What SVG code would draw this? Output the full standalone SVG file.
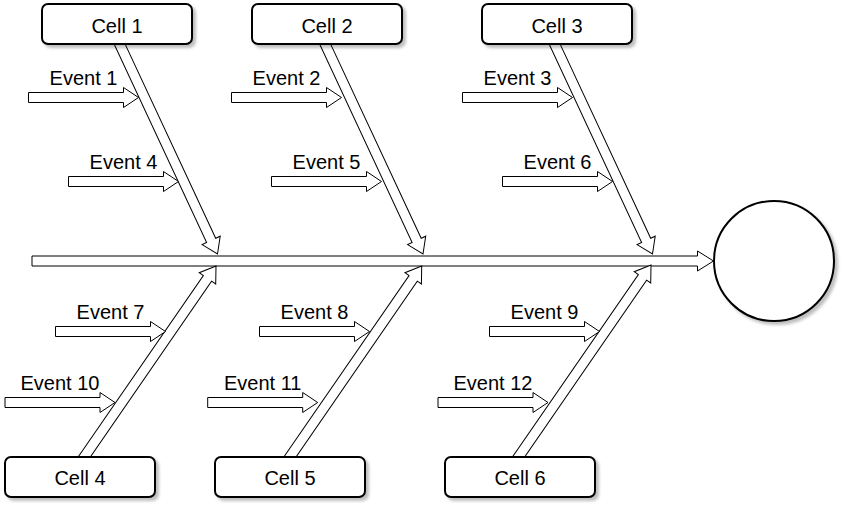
<svg xmlns="http://www.w3.org/2000/svg" xmlns:xlink="http://www.w3.org/1999/xlink" width="843" height="508" viewBox="0 0 843 508">
  <style>
    .arrow { fill: #ffffff; stroke: #000000; stroke-width: 1; stroke-linejoin: miter; }
    .box { fill: #ffffff; stroke: #000000; stroke-width: 2; filter: url(#shadow); }
    .lbl { font-family: "Liberation Sans", Arial, sans-serif; font-size: 20px; fill: #000000; text-anchor: middle; }
  </style>
  <defs>
    <filter id="shadow" x="-10%" y="-20%" width="130%" height="150%">
      <feDropShadow dx="3" dy="3" stdDeviation="1.5" flood-color="#000000" flood-opacity="0.25"/>
    </filter>
    <!-- horizontal event arrow, tip at origin -->
    <path id="ev" d="M -110 -5 L -15 -5 L -15 -10 L 0 0 L -15 10 L -15 5 L -110 5 Z"/>
    <!-- long branch arrow, tip at origin, pointing +x -->
    <path id="br" d="M -245 -5 L -15 -5 L -15 -10 L 0 0 L -15 10 L -15 5 L -245 5 Z"/>
  </defs>
  <rect x="0" y="0" width="843" height="508" fill="#ffffff"/>

  <g id="connectors">
    <!-- spine -->
    <path class="arrow" d="M 32 256 L 697.5 256 L 697.5 251 L 713.5 261 L 697.5 271 L 697.5 266 L 32 266 Z"/>
    <!-- top branches -->
    <use href="#br" class="arrow" transform="translate(217.5,254) rotate(65)"/>
    <use href="#br" class="arrow" transform="translate(423,254) rotate(65)"/>
    <use href="#br" class="arrow" transform="translate(652.5,254) rotate(65)"/>
    <!-- bottom branches -->
    <use href="#br" class="arrow" transform="translate(216,266) rotate(-55.4)"/>
    <use href="#br" class="arrow" transform="translate(421.7,266) rotate(-55.4)"/>
    <use href="#br" class="arrow" transform="translate(651,265) rotate(-55.4)"/>
    <!-- events -->
    <g id="event-1"><use href="#ev" class="arrow" x="138.5" y="97.5"/><text class="lbl" x="83.5" y="84.5">Event 1</text></g>
    <g id="event-2"><use href="#ev" class="arrow" x="341.5" y="97.5"/><text class="lbl" x="286.5" y="84.5">Event 2</text></g>
    <g id="event-3"><use href="#ev" class="arrow" x="572.5" y="97.5"/><text class="lbl" x="517.5" y="84.5">Event 3</text></g>
    <g id="event-4"><use href="#ev" class="arrow" x="178.5" y="181.5"/><text class="lbl" x="123.5" y="168.5">Event 4</text></g>
    <g id="event-5"><use href="#ev" class="arrow" x="381.5" y="181.5"/><text class="lbl" x="326.5" y="168.5">Event 5</text></g>
    <g id="event-6"><use href="#ev" class="arrow" x="612.5" y="181.5"/><text class="lbl" x="557.5" y="168.5">Event 6</text></g>
    <g id="event-7"><use href="#ev" class="arrow" x="165.5" y="331.5"/><text class="lbl" x="110.5" y="318.5">Event 7</text></g>
    <g id="event-8"><use href="#ev" class="arrow" x="369.5" y="331.5"/><text class="lbl" x="314.5" y="318.5">Event 8</text></g>
    <g id="event-9"><use href="#ev" class="arrow" x="599.5" y="331.5"/><text class="lbl" x="544.5" y="318.5">Event 9</text></g>
    <g id="event-10"><use href="#ev" class="arrow" x="115" y="402.5"/><text class="lbl" x="60" y="389.5">Event 10</text></g>
    <g id="event-11"><use href="#ev" class="arrow" x="317.7" y="402.5"/><text class="lbl" x="262.7" y="389.5">Event 11</text></g>
    <g id="event-12"><use href="#ev" class="arrow" x="548" y="402.5"/><text class="lbl" x="493" y="389.5">Event 12</text></g>
  </g>

  <g id="cell-1"><rect class="box" x="42" y="4" width="150" height="40" rx="6" ry="6"/><text class="lbl" x="117" y="33">Cell 1</text></g>
  <g id="cell-2"><rect class="box" x="252" y="4" width="150" height="40" rx="6" ry="6"/><text class="lbl" x="327" y="33">Cell 2</text></g>
  <g id="cell-3"><rect class="box" x="482" y="4" width="150" height="40" rx="6" ry="6"/><text class="lbl" x="557" y="33">Cell 3</text></g>
  <g id="cell-4"><rect class="box" x="5" y="457" width="150" height="40" rx="6" ry="6"/><text class="lbl" x="80" y="485">Cell 4</text></g>
  <g id="cell-5"><rect class="box" x="215" y="457" width="150" height="40" rx="6" ry="6"/><text class="lbl" x="290" y="485">Cell 5</text></g>
  <g id="cell-6"><rect class="box" x="445" y="457" width="150" height="40" rx="6" ry="6"/><text class="lbl" x="520" y="485">Cell 6</text></g>

  <g id="effect"><circle class="box" cx="774" cy="261" r="60"/></g>
</svg>
